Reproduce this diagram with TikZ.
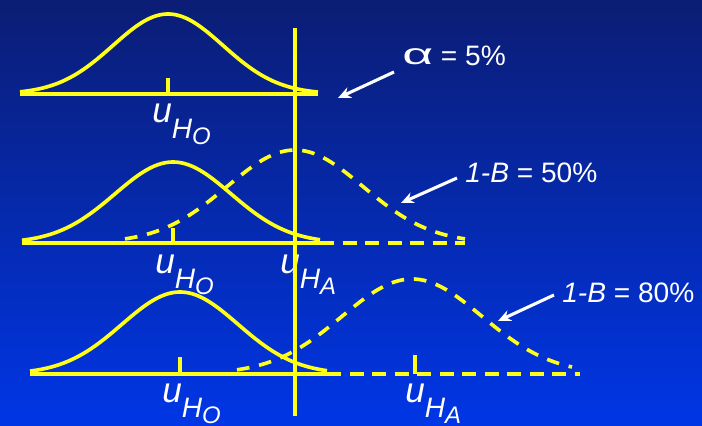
\documentclass[tikz,border=0pt]{standalone}
\usepackage{fontspec}
\setmainfont{Liberation Sans}
\usetikzlibrary{arrows.meta, positioning, calc}
\definecolor{navytop}{HTML}{0B1D74}
\definecolor{bluebot}{HTML}{0036E6}
\definecolor{cyell}{HTML}{FFFF1A}
\tikzset{
  every picture/.style={x=0.025cm, y=-0.025cm},
  curve/.style={draw=cyell, line width=2.6pt},
  dcurve/.style={curve, dash pattern=on 9pt off 7pt},
  axis/.style={draw=cyell, line width=3.2pt},
  daxis/.style={axis, line width=2.6pt, dash pattern=on 10pt off 6pt},
  arrow/.style={-{Stealth[length=3.2mm, width=2.8mm]}, draw=white, line width=2.2pt},
  label/.style={text=white, anchor=base west, inner sep=0pt, font=\fontsize{20}{24}\selectfont},
  hyp/.style={text=white, anchor=base west, inner sep=0pt},
  % gaussian: x, centre, peak y, base y, sigma
  declare function={bell(\x,\c,\p,\b,\s)=\b-(\b-\p)*exp(-0.5*((\x-\c)/\s)^2);},
}
% u with stacked subscripts, as on the slide
\newcommand{\hypmean}[1]{{\fontsize{25}{25}\selectfont\itshape u}\raisebox{-10.7pt}{\fontsize{20}{20}\selectfont\itshape H\raisebox{-4.3pt}{\fontsize{17}{17}\selectfont #1}}}

\begin{document}
\begin{tikzpicture}
  \shade[top color=navytop, bottom color=bluebot] (0,0) rectangle (702,426);
  \useasboundingbox (0,0) rectangle (702,426);

  % null only
  \draw[curve] plot[domain=20:318, samples=80] (\x, {bell(\x,168,14,94,55)});
  \draw[axis] (20,94) -- (318,94);
  \draw[axis] (168,78) -- (168,94);
  \node[hyp] (h0a) at (152,123) {\hypmean{O}};

  % alternative close by
  \draw[dcurve] plot[domain=125:465, samples=80] (\x, {bell(\x,295,150,243,68)});
  \draw[curve] plot[domain=22:320, samples=80] (\x, {bell(\x,173,162,243,58)});
  \draw[axis] (22,243) -- (320,243);
  \draw[daxis] (320,243) -- (465,243);
  \draw[axis] (173,228) -- (173,243);
  \node[hyp] (h0b) at (155,273) {\hypmean{O}};
  \node[hyp] (hab) at (280,273) {\hypmean{A}};

  % alternative further out
  \draw[dcurve] plot[domain=237:572, samples=80] (\x, {bell(\x,412,279,374,70)});
  \draw[curve] plot[domain=30:327, samples=80] (\x, {bell(\x,180,292,374,58)});
  \draw[axis] (30,374) -- (327,374);
  \draw[daxis] (327,374) -- (580,374);
  \draw[axis] (180,357) -- (180,374);
  \draw[axis] (415,355) -- (415,374);
  \node[hyp] (h0c) at (162,402) {\hypmean{O}};
  \node[hyp] (hac) at (405,402) {\hypmean{A}};

  % critical value
  \draw[curve] (295,28) -- (295,416);

  % annotations
  \node[label] (alpha) at (402,66) {\raisebox{1pt}{\scalebox{1.9}[1.05]{α}} = 5\%};
  \node[label] (pow50) at (465,183) {\textit{1-B} = 50\%};
  \node[label] (pow80) at (562,302) {\textit{1-B} = 80\%};
  \coordinate (tipa) at (338,98);
  \coordinate (tipb) at (401,203);
  \coordinate (tipc) at (498,321);
  \draw[arrow] ($(alpha.base west)+(-8,6)$) -- (tipa);
  \draw[arrow] ($(pow50.base west)+(-8,-5)$) -- (tipb);
  \draw[arrow] ($(pow80.base west)+(-8,-7)$) -- (tipc);
\end{tikzpicture}
\end{document}
